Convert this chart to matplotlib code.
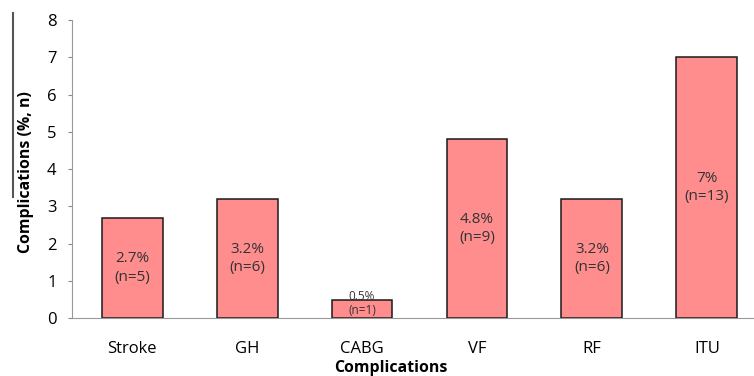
import matplotlib.pyplot as plt
import numpy as np

# Complication rates (%) and counts
categories = ['Stroke', 'GH', 'CABG', 'VF', 'RF', 'ITU']
rates = [2.7, 3.2, 0.5, 4.8, 3.2, 7.0]
counts = [5, 6, 1, 9, 6, 13]
rate_text = ['2.7%', '3.2%', '0.5%', '4.8%', '3.2%', '7%']

plt.rcParams['font.family'] = ['Open Sans', 'DejaVu Sans']

fig = plt.figure(figsize=(7.54, 3.76), dpi=100)
ax = fig.add_axes([0.0955, 0.1535, 0.9045, 0.7935])

x = np.arange(len(categories))
bars = ax.bar(x, rates, width=0.53, color='#ff8d8d', edgecolor='#1a1a1a', linewidth=1.1, zorder=2)

# value labels inside the bars
for xi, r, txt, n in zip(x, rates, rate_text, counts):
    if r < 1:
        ax.text(xi, r / 2 + 0.33, txt, ha='center', va='center', fontsize=8.5, color='#333333')
        ax.text(xi, r / 2 - 0.05, f'(n={n})', ha='center', va='center', fontsize=8.5, color='#333333')
    else:
        ax.text(xi, r / 2, f'{txt}\n(n={n})', ha='center', va='center', fontsize=11,
                color='#333333', linespacing=1.3)

ax.set_xlim(-0.523, 5.41)
ax.set_ylim(0, 8)
ax.set_yticks(range(0, 9))
ax.set_xticks(x)
ax.set_xticklabels(categories, fontsize=12)
ax.tick_params(axis='x', length=0, pad=16)
ax.tick_params(axis='y', length=3, color='#888888', labelsize=12, pad=8)

for side in ['top', 'right']:
    ax.spines[side].set_visible(False)
ax.spines['left'].set_color('#999999')
ax.spines['bottom'].set_color('#999999')

ax.set_xlabel('Complications', fontsize=11.4, fontweight='bold', va='center')
ax.xaxis.set_label_coords(0.467, -0.167)
ax.set_ylabel('Complications (%, n)', fontsize=11.4, fontweight='bold', va='center')
ax.yaxis.set_label_coords(-0.067, 0.49)

# thin dark rule at the upper left
fig.add_artist(plt.Line2D([0.0175, 0.0175], [0.476, 0.965], color='#555555', linewidth=1.5))

fig.savefig('out.png', dpi=100)
